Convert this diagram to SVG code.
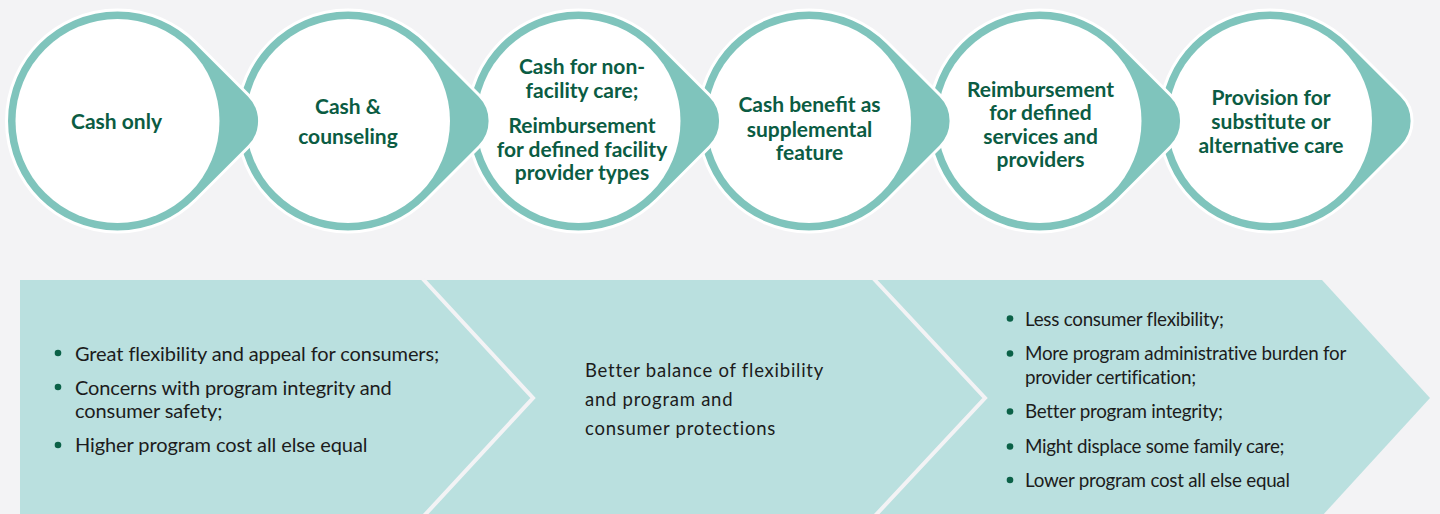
<svg xmlns="http://www.w3.org/2000/svg" xmlns:xlink="http://www.w3.org/1999/xlink" width="1440" height="514" viewBox="0 0 1440 514">
<style>
.drop{fill:#7fc4bc;stroke:#ffffff;stroke-width:3;}
.inner{fill:#ffffff;}
.ct{font-family:Lato,"Open Sans",sans-serif;font-weight:700;font-size:21px;fill:#0b5c43;text-anchor:middle;}
.bt{font-family:Lato,"Open Sans",sans-serif;font-size:20px;letter-spacing:-0.1px;fill:#1c1c1c;}
.rt{font-family:Lato,"Open Sans",sans-serif;font-size:18.8px;letter-spacing:-0.25px;fill:#1c1c1c;}
.mt{font-family:Lato,"Open Sans",sans-serif;font-size:18.5px;letter-spacing:0.75px;fill:#1c1c1c;}
.bul{fill:#0b6147;}
.div{fill:none;stroke:#f3f3f5;stroke-width:4;}
</style>
<defs>
<path id="drop" d="M78.5,-78.5 L131.5,-25.5 A36,36 0 0 1 131.5,25.5 L78.5,78.5 A111,111 0 1 1 78.5,-78.5 Z"/>
</defs>
<rect x="0" y="0" width="1440" height="514" fill="#f3f3f5"/>

<g id="node6" transform="translate(1270,121)">
<use xlink:href="#drop" class="drop"/>
<circle cx="0" cy="0" r="102" class="inner"/>
<text class="ct" x="1" y="-16">Provision for</text>
<text class="ct" x="1" y="7.5">substitute or</text>
<text class="ct" x="1" y="31.5">alternative care</text>
</g>
<g id="node5" transform="translate(1039.5,121)">
<use xlink:href="#drop" class="drop"/>
<circle cx="0" cy="0" r="102" class="inner"/>
<text class="ct" x="1" y="-24.5">Reimbursement</text>
<text class="ct" x="1" y="-1">for defined</text>
<text class="ct" x="1" y="22.5">services and</text>
<text class="ct" x="1" y="45.5">providers</text>
</g>
<g id="node4" transform="translate(809,121)">
<use xlink:href="#drop" class="drop"/>
<circle cx="0" cy="0" r="102" class="inner"/>
<text class="ct" x="0.5" y="-9.5">Cash benefit as</text>
<text class="ct" x="0.5" y="15.5">supplemental</text>
<text class="ct" x="0.5" y="39">feature</text>
</g>
<g id="node3" transform="translate(578.5,121)">
<use xlink:href="#drop" class="drop"/>
<circle cx="0" cy="0" r="102" class="inner"/>
<text class="ct" x="3.5" y="-47">Cash for non-</text>
<text class="ct" x="3.5" y="-23.5">facility care;</text>
<text class="ct" x="3.5" y="11.5">Reimbursement</text>
<text class="ct" x="3.5" y="35.5">for defined facility</text>
<text class="ct" x="3.5" y="59">provider types</text>
</g>
<g id="node2" transform="translate(348,121)">
<use xlink:href="#drop" class="drop"/>
<circle cx="0" cy="0" r="102" class="inner"/>
<text class="ct" x="0" y="-7.5">Cash &amp;</text>
<text class="ct" x="0" y="22.5">counseling</text>
</g>
<g id="node1" transform="translate(117.5,121)">
<use xlink:href="#drop" class="drop"/>
<circle cx="0" cy="0" r="102" class="inner"/>
<text class="ct" x="-1" y="7.5">Cash only</text>
</g>

<g id="band">
<polygon points="20,280 1322,280 1430,398 1322,516 20,516" fill="#bae0df"/>
<polyline class="div" points="422,278 533,398 422,518"/>
<polyline class="div" points="873,278 985,398 873,518"/>
</g>

<g id="panel1">
<circle class="bul" cx="58" cy="353" r="3.3"/>
<text class="bt" x="75" y="361">Great flexibility and appeal for consumers;</text>
<circle class="bul" cx="58" cy="387" r="3.3"/>
<text class="bt" x="75" y="394.5">Concerns with program integrity and</text>
<text class="bt" x="75" y="418">consumer safety;</text>
<circle class="bul" cx="58" cy="445" r="3.3"/>
<text class="bt" x="75" y="452">Higher program cost all else equal</text>
</g>

<g id="panel2">
<text class="mt" x="585" y="377">Better balance of flexibility</text>
<text class="mt" x="585" y="406">and program and</text>
<text class="mt" x="585" y="435">consumer protections</text>
</g>

<g id="panel3">
<circle class="bul" cx="1010" cy="318.5" r="3.3"/>
<text class="rt" x="1025" y="325.5">Less consumer flexibility;</text>
<circle class="bul" cx="1010" cy="353.5" r="3.3"/>
<text class="rt" x="1025" y="360">More program administrative burden for</text>
<text class="rt" x="1025" y="383.5">provider certification;</text>
<circle class="bul" cx="1010" cy="411.5" r="3.3"/>
<text class="rt" x="1025" y="418">Better program integrity;</text>
<circle class="bul" cx="1010" cy="446.5" r="3.3"/>
<text class="rt" x="1025" y="453">Might displace some family care;</text>
<circle class="bul" cx="1010" cy="480" r="3.3"/>
<text class="rt" x="1025" y="486.5">Lower program cost all else equal</text>
</g>
</svg>
